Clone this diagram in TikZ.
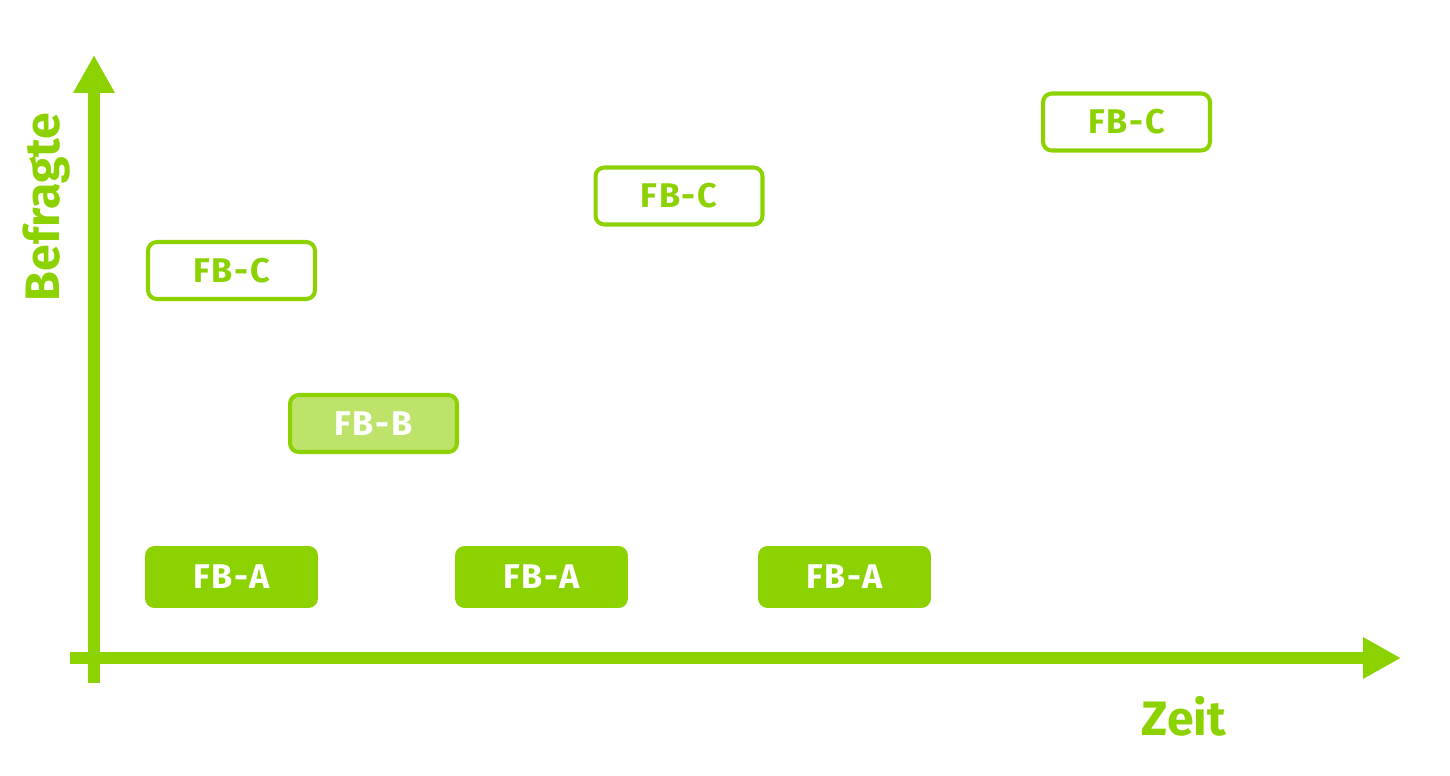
\documentclass[tikz,border=0pt]{standalone}
\usepackage{fontspec}
\setmainfont{Fira Sans}
\newfontfamily\boxfont[LetterSpace=5]{Fira Sans}
\usepackage{tikz}
\usetikzlibrary{positioning,arrows.meta}

\definecolor{fbgreen}{RGB}{140,210,0}
\definecolor{fblight}{RGB}{189,227,107}

\tikzset{
  fbbox/.style={rounded corners=5pt, minimum width=3.34cm, minimum height=1.14cm, line width=2.3pt, font=\boxfont\fontsize{19.5}{21}\selectfont\bfseries},
  fbfull/.style={fbbox, fill=fbgreen, draw=none, text=white, minimum width=3.46cm, minimum height=1.24cm, rounded corners=5.5pt},
  fbhalf/.style={fbbox, fill=fblight, draw=fbgreen, text=white},
  fbopen/.style={fbbox, fill=white, draw=fbgreen, text=fbgreen},
  axis/.style={fbgreen, line width=7pt, -{Triangle[length=0.76cm, width=0.78cm]}},
  axlabel/.style={text=fbgreen, font=\fontsize{27.5}{29}\selectfont\bfseries}
}

\begin{document}
\begin{tikzpicture}[x=0.02cm, y=-0.02cm]
\useasboundingbox (0,0) rectangle (1450,776);
% axes
\coordinate (yfoot) at (94,683);
\coordinate (ytip) at (94,55);
\coordinate (xfoot) at (70,658);
\coordinate (xtip) at (1401,658);
\draw[axis] (yfoot) -- (ytip);
\draw[axis] (xfoot) -- (xtip);
\node[axlabel, rotate=90] (befragte) at (47,207) {Befragte};
\node[axlabel] (zeit) at (1184,716) {Zeit};

% Fragebogen A
\node[fbfull] (a1) at (231.5,577) {FB-A};
\node[fbfull] (a2) at (541.5,577) {FB-A};
\node[fbfull] (a3) at (844.5,577) {FB-A};
% Fragebogen B
\node[fbhalf] (b1) at (373.5,423.5) {FB-B};
% Fragebogen C
\node[fbopen] (c1) at (231.5,270.5) {FB-C};
\node[fbopen] (c2) at (679,196) {FB-C};
\node[fbopen] (c3) at (1126.5,122) {FB-C};
\end{tikzpicture}
\end{document}
